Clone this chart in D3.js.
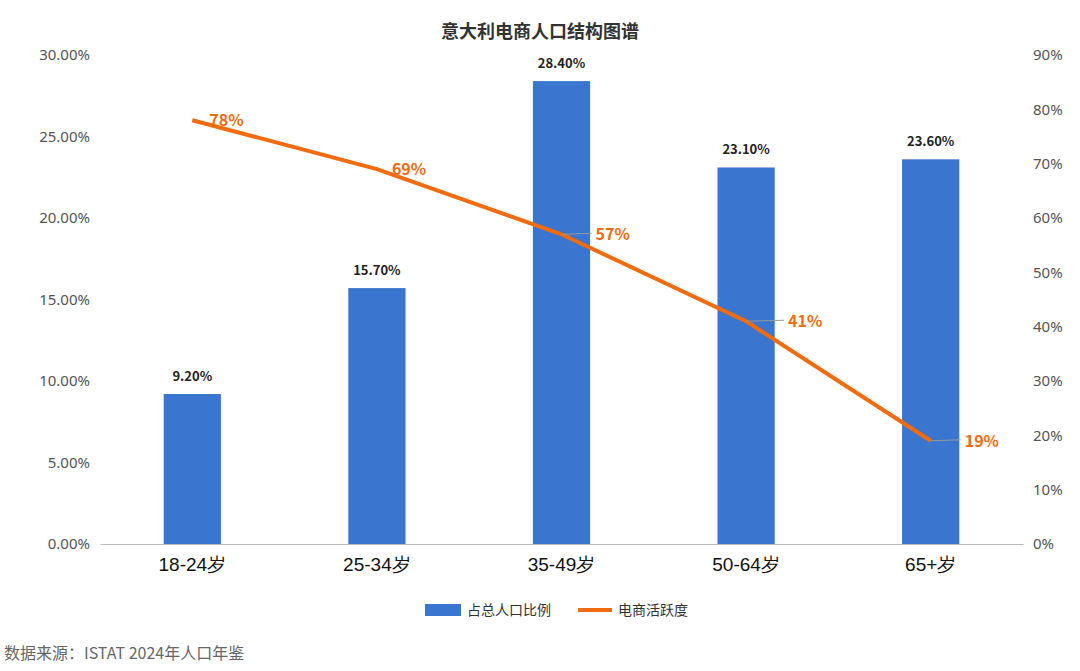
<!DOCTYPE html>
<html><head><meta charset="utf-8">
<script src="https://cdn.jsdelivr.net/npm/d3@7"></script>
<style>body{margin:0;background:#fff;font-family:"Noto Sans CJK SC","Noto Sans",sans-serif}</style>
</head><body><svg id="c" width="1080" height="671"></svg>
<script>
const categories=["18-24岁","25-34岁","35-49岁","50-64岁","65+岁"];
const popShare=[9.2,15.7,28.4,23.1,23.6];
const activity=[78,69,57,41,19];
const leftTicks=[0,5,10,15,20,25,30];
const rightTicks=[0,10,20,30,40,50,60,70,80,90];
const svg=d3.select("#c");
const L=100,R=1023,T=55,B=544;
const x=d3.scaleBand().domain(categories).range([L,R]).paddingInner(0.69).paddingOuter(0.345);
const yL=d3.scaleLinear().domain([0,30]).range([B,T]);
const yR=d3.scaleLinear().domain([0,90]).range([B,T]);
const blue="#3a75d0",orange="#f26b0f";
svg.append("text").attr("x",540).attr("y",38).attr("text-anchor","middle").attr("font-size",18).attr("font-weight","bold").attr("fill","#333").text("意大利电商人口结构图谱");
const gl=svg.append("g").attr("transform",`translate(${L},0)`).call(d3.axisLeft(yL).tickValues(leftTicks).tickFormat(d=>d.toFixed(2)+"%").tickSize(0).tickPadding(10));
const gr=svg.append("g").attr("transform",`translate(${R},0)`).call(d3.axisRight(yR).tickValues(rightTicks).tickFormat(d=>d+"%").tickSize(0).tickPadding(10));
[gl,gr].forEach(g=>{g.select(".domain").remove();g.selectAll("text").attr("font-size",15).attr("fill","#555").attr("font-family","Noto Sans, sans-serif");});
const gx=svg.append("g").attr("transform",`translate(0,${B})`).call(d3.axisBottom(x).tickSize(0).tickPadding(14));
gx.select(".domain").attr("stroke","#bbb");
gx.selectAll("text").attr("font-size",19).attr("fill","#111");
svg.selectAll("rect.bar").data(popShare).join("rect").attr("x",(d,i)=>x(categories[i])).attr("width",x.bandwidth()).attr("y",d=>yL(d)).attr("height",d=>B-yL(d)).attr("fill",blue);
svg.selectAll("text.bl").data(popShare).join("text").attr("x",(d,i)=>x(categories[i])+x.bandwidth()/2).attr("y",d=>yL(d)-13).attr("text-anchor","middle").attr("font-size",13).attr("font-weight","bold").attr("fill","#222").text(d=>d.toFixed(2)+"%");
const cx=i=>x(categories[i])+x.bandwidth()/2;
svg.append("path").datum(activity).attr("d",d3.line().x((d,i)=>cx(i)).y(d=>yR(d))).attr("fill","none").attr("stroke",orange).attr("stroke-width",4);
const offs=[[17,0,false],[15,0,false],[34,0,true],[42,0,true],[34,0,true]];
activity.forEach((v,i)=>{
  const px=cx(i),py=yR(v),o=offs[i];
  if(o[2]) svg.append("line").attr("x1",px).attr("y1",py).attr("x2",px+o[0]-4).attr("y2",py-1).attr("stroke","#999").attr("stroke-width",1);
  svg.append("text").attr("x",px+o[0]).attr("y",py+6).attr("font-size",16).attr("font-weight","bold").attr("fill",orange).text(v+"%");
});
svg.append("rect").attr("x",425).attr("y",604).attr("width",36).attr("height",12).attr("fill",blue);
svg.append("text").attr("x",467).attr("y",615).attr("font-size",14).attr("fill","#333").text("占总人口比例");
svg.append("line").attr("x1",578).attr("x2",612).attr("y1",610).attr("y2",610).attr("stroke",orange).attr("stroke-width",4);
svg.append("text").attr("x",618).attr("y",615).attr("font-size",14).attr("fill","#333").text("电商活跃度");
svg.append("text").attr("x",4).attr("y",659).attr("font-size",16).attr("fill","#666").text("数据来源：ISTAT 2024年人口年鉴");
</script></body></html>
